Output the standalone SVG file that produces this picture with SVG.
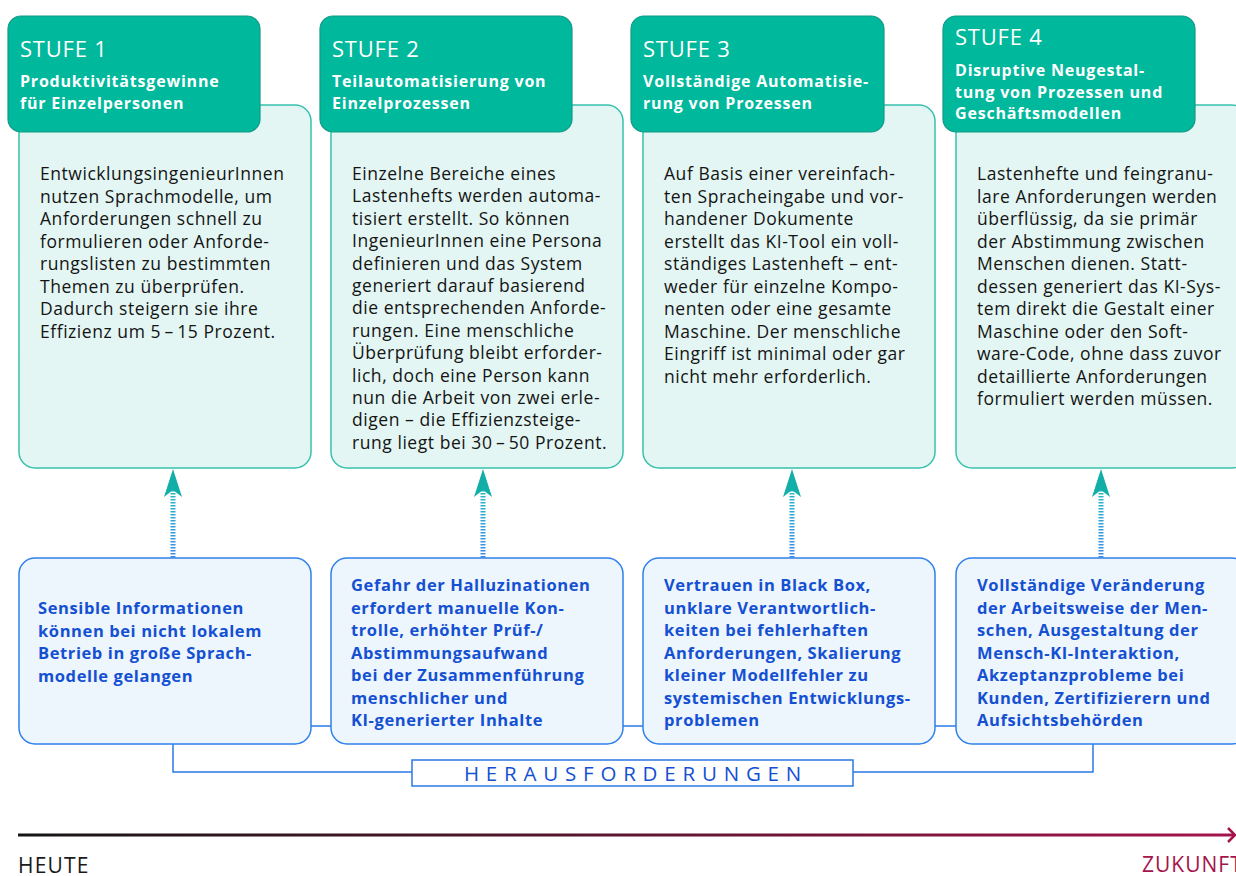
<svg xmlns="http://www.w3.org/2000/svg" width="1236" height="876" viewBox="0 0 1236 876">
<style>
.hdr{fill:#00b89c;stroke:#139a86;stroke-width:1.2}
.body{fill:#e3f6f3;stroke:#38c2ad;stroke-width:1.5}
.ch{fill:#edf5fd;stroke:#2f80ea;stroke-width:1.5}
.t-stufe{font-family:"Open Sans","Noto Sans",sans-serif;font-size:22px;letter-spacing:0.8px;fill:#ffffff}
.t-sub{font-family:"Open Sans","Noto Sans",sans-serif;font-size:16px;letter-spacing:0.8px;font-weight:bold;fill:#ffffff}
.t-body{font-family:"Open Sans","Noto Sans",sans-serif;font-size:17.5px;letter-spacing:0.55px;fill:#141414}
.t-ch{font-family:"Open Sans","Noto Sans",sans-serif;font-size:16.5px;letter-spacing:0.6px;font-weight:bold;fill:#1450d2}
.link{fill:none;stroke:#2a78e6;stroke-width:1.5}
.dots{stroke:url(#dg);stroke-width:5;stroke-dasharray:1.6 1.4}
.head{fill:#12afa8}
</style>
<defs>
<linearGradient id="dg" gradientUnits="userSpaceOnUse" x1="0" y1="490" x2="0" y2="558">
<stop offset="0" stop-color="#2ab8c4"/>
<stop offset="1" stop-color="#3b87ea"/>
</linearGradient>
<linearGradient id="tl" gradientUnits="userSpaceOnUse" x1="18" y1="0" x2="1236" y2="0">
<stop offset="0" stop-color="#151515"/>
<stop offset="1" stop-color="#a5154c"/>
</linearGradient>
</defs>

<g id="connectors">
<line class="link" x1="311" y1="726" x2="331" y2="726"/>
<line class="link" x1="623" y1="726" x2="643" y2="726"/>
<line class="link" x1="935" y1="726" x2="956" y2="726"/>
<polyline class="link" points="173,744 173,772 412,772"/>
<polyline class="link" points="853,772 1093,772 1093,744"/>
<line class="dots" x1="173" y1="490" x2="173" y2="558"/>
<line class="dots" x1="483" y1="490" x2="483" y2="558"/>
<line class="dots" x1="792" y1="490" x2="792" y2="558"/>
<line class="dots" x1="1101" y1="490" x2="1101" y2="558"/>
<path class="head" d="M173,469 L182,497 L173,490 L164,497 Z"/>
<path class="head" d="M483,469 L492,497 L483,490 L474,497 Z"/>
<path class="head" d="M792,469 L801,497 L792,490 L783,497 Z"/>
<path class="head" d="M1101,469 L1110,497 L1101,490 L1092,497 Z"/>
</g>

<g id="stufe1">
<rect class="body" x="19" y="105" width="292" height="363" rx="16"/>
<rect class="hdr" x="8" y="16" width="252" height="116" rx="13"/>
<text class="t-stufe" x="20" y="57">STUFE 1</text>
<text class="t-sub" x="20" y="87">Produktivitätsgewinne</text>
<text class="t-sub" x="20" y="109">für Einzelpersonen</text>
<text class="t-body" x="40" y="180">
<tspan x="40" y="180">EntwicklungsingenieurInnen</tspan>
<tspan x="40" y="202.5">nutzen Sprachmodelle, um</tspan>
<tspan x="40" y="225">Anforderungen schnell zu</tspan>
<tspan x="40" y="247.5">formulieren oder Anforde-</tspan>
<tspan x="40" y="270">rungslisten zu bestimmten</tspan>
<tspan x="40" y="292.5">Themen zu überprüfen.</tspan>
<tspan x="40" y="315">Dadurch steigern sie ihre</tspan>
<tspan x="40" y="337.5">Effizienz um 5&#8201;–&#8201;15 Prozent.</tspan>
</text>
</g>

<g id="stufe2">
<rect class="body" x="331" y="105" width="292" height="363" rx="16"/>
<rect class="hdr" x="320" y="16" width="252" height="116" rx="13"/>
<text class="t-stufe" x="332" y="57">STUFE 2</text>
<text class="t-sub" x="332" y="87">Teilautomatisierung von</text>
<text class="t-sub" x="332" y="109">Einzelprozessen</text>
<text class="t-body" x="352" y="180">
<tspan x="352" y="180">Einzelne Bereiche eines</tspan>
<tspan x="352" y="202.4">Lastenhefts werden automa-</tspan>
<tspan x="352" y="224.8">tisiert erstellt. So können</tspan>
<tspan x="352" y="247.2">IngenieurInnen eine Persona</tspan>
<tspan x="352" y="269.6">definieren und das System</tspan>
<tspan x="352" y="292">generiert darauf basierend</tspan>
<tspan x="352" y="314.4">die entsprechenden Anforde-</tspan>
<tspan x="352" y="336.8">rungen. Eine menschliche</tspan>
<tspan x="352" y="359.2">Überprüfung bleibt erforder-</tspan>
<tspan x="352" y="381.6">lich, doch eine Person kann</tspan>
<tspan x="352" y="404">nun die Arbeit von zwei erle-</tspan>
<tspan x="352" y="426.4">digen – die Effizienzsteige-</tspan>
<tspan x="352" y="448.8">rung liegt bei 30&#8201;–&#8201;50 Prozent.</tspan>
</text>
</g>

<g id="stufe3">
<rect class="body" x="643" y="105" width="292" height="363" rx="16"/>
<rect class="hdr" x="631" y="16" width="253" height="116" rx="13"/>
<text class="t-stufe" x="643" y="57">STUFE 3</text>
<text class="t-sub" x="643" y="87">Vollständige Automatisie-</text>
<text class="t-sub" x="643" y="109">rung von Prozessen</text>
<text class="t-body" x="664" y="180">
<tspan x="664" y="180">Auf Basis einer vereinfach-</tspan>
<tspan x="664" y="202.5">ten Spracheingabe und vor-</tspan>
<tspan x="664" y="225">handener Dokumente</tspan>
<tspan x="664" y="247.5">erstellt das KI-Tool ein voll-</tspan>
<tspan x="664" y="270">ständiges Lastenheft – ent-</tspan>
<tspan x="664" y="292.5">weder für einzelne Kompo-</tspan>
<tspan x="664" y="315">nenten oder eine gesamte</tspan>
<tspan x="664" y="337.5">Maschine. Der menschliche</tspan>
<tspan x="664" y="360">Eingriff ist minimal oder gar</tspan>
<tspan x="664" y="382.5">nicht mehr erforderlich.</tspan>
</text>
</g>

<g id="stufe4">
<rect class="body" x="956" y="105" width="292" height="363" rx="16"/>
<rect class="hdr" x="943" y="16" width="252" height="116" rx="13"/>
<text class="t-stufe" x="955" y="45">STUFE 4</text>
<text class="t-sub" x="955" y="76">Disruptive Neugestal-</text>
<text class="t-sub" x="955" y="97.5">tung von Prozessen und</text>
<text class="t-sub" x="955" y="119">Geschäftsmodellen</text>
<text class="t-body" x="977" y="180">
<tspan x="977" y="180">Lastenhefte und feingranu-</tspan>
<tspan x="977" y="202.5">lare Anforderungen werden</tspan>
<tspan x="977" y="225">überflüssig, da sie primär</tspan>
<tspan x="977" y="247.5">der Abstimmung zwischen</tspan>
<tspan x="977" y="270">Menschen dienen. Statt-</tspan>
<tspan x="977" y="292.5">dessen generiert das KI-Sys-</tspan>
<tspan x="977" y="315">tem direkt die Gestalt einer</tspan>
<tspan x="977" y="337.5">Maschine oder den Soft-</tspan>
<tspan x="977" y="360">ware-Code, ohne dass zuvor</tspan>
<tspan x="977" y="382.5">detaillierte Anforderungen</tspan>
<tspan x="977" y="405">formuliert werden müssen.</tspan>
</text>
</g>

<g id="challenge1">
<rect class="ch" x="19" y="558" width="292" height="186" rx="16"/>
<text class="t-ch" x="38" y="614">
<tspan x="38" y="614">Sensible Informationen</tspan>
<tspan x="38" y="636.5">können bei nicht lokalem</tspan>
<tspan x="38" y="659">Betrieb in große Sprach-</tspan>
<tspan x="38" y="681.5">modelle gelangen</tspan>
</text>
</g>

<g id="challenge2">
<rect class="ch" x="331" y="558" width="292" height="186" rx="16"/>
<text class="t-ch" x="351" y="591">
<tspan x="351" y="591">Gefahr der Halluzinationen</tspan>
<tspan x="351" y="613.5">erfordert manuelle Kon-</tspan>
<tspan x="351" y="636">trolle, erhöhter Prüf-/</tspan>
<tspan x="351" y="658.5">Abstimmungsaufwand</tspan>
<tspan x="351" y="681">bei der Zusammenführung</tspan>
<tspan x="351" y="703.5">menschlicher und</tspan>
<tspan x="351" y="726">KI-generierter Inhalte</tspan>
</text>
</g>

<g id="challenge3">
<rect class="ch" x="643" y="558" width="292" height="186" rx="16"/>
<text class="t-ch" x="664" y="591">
<tspan x="664" y="591">Vertrauen in Black Box,</tspan>
<tspan x="664" y="613.5">unklare Verantwortlich-</tspan>
<tspan x="664" y="636">keiten bei fehlerhaften</tspan>
<tspan x="664" y="658.5">Anforderungen, Skalierung</tspan>
<tspan x="664" y="681">kleiner Modellfehler zu</tspan>
<tspan x="664" y="703.5">systemischen Entwicklungs-</tspan>
<tspan x="664" y="726">problemen</tspan>
</text>
</g>

<g id="challenge4">
<rect class="ch" x="956" y="558" width="292" height="186" rx="16"/>
<text class="t-ch" x="977" y="591">
<tspan x="977" y="591">Vollständige Veränderung</tspan>
<tspan x="977" y="613.5">der Arbeitsweise der Men-</tspan>
<tspan x="977" y="636">schen, Ausgestaltung der</tspan>
<tspan x="977" y="658.5">Mensch-KI-Interaktion,</tspan>
<tspan x="977" y="681">Akzeptanzprobleme bei</tspan>
<tspan x="977" y="703.5">Kunden, Zertifizierern und</tspan>
<tspan x="977" y="726">Aufsichtsbehörden</tspan>
</text>
</g>

<g id="herausforderungen">
<rect x="412" y="760" width="441" height="26" fill="#ffffff" stroke="#2a78e6" stroke-width="1.5"/>
<text x="636" y="781" text-anchor="middle" font-family="'Open Sans','Noto Sans',sans-serif" font-size="20.5" letter-spacing="6.8" fill="#1450d2">HERAUSFORDERUNGEN</text>
</g>

<g id="timeline">
<line x1="18" y1="835" x2="1234" y2="835" stroke="url(#tl)" stroke-width="3"/>
<polyline points="1228,828 1235,835 1228,842" fill="none" stroke="#a5154c" stroke-width="2.5"/>
<text x="18" y="873" font-family="'Open Sans','Noto Sans',sans-serif" font-size="21" letter-spacing="1.2" fill="#1a1a1a">HEUTE</text>
<text x="1142" y="872" font-family="'Open Sans','Noto Sans',sans-serif" font-size="21" letter-spacing="1" fill="#a5154c">ZUKUNFT</text>
</g>
</svg>
